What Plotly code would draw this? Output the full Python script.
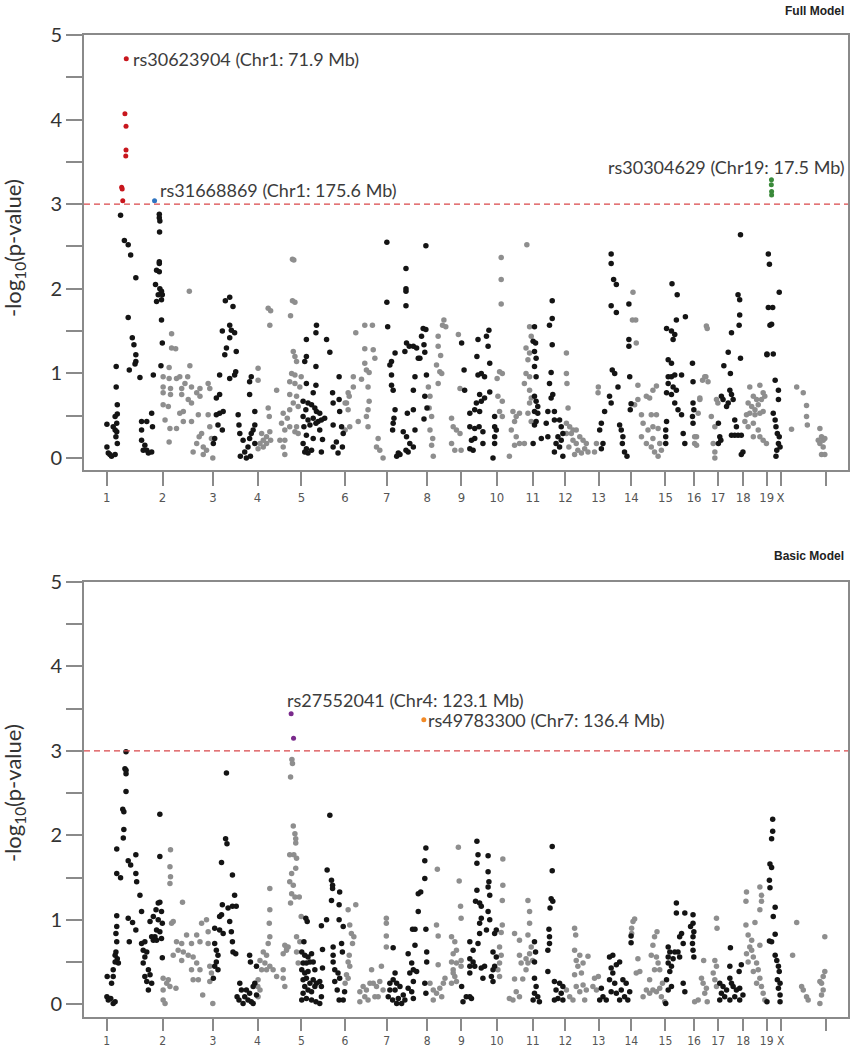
import plotly.graph_objects as go

# chromosome layout (Mb)
CHROMOSOMES = ['1', '2', '3', '4', '5', '6', '7', '8', '9', '10',
               '11', '12', '13', '14', '15', '16', '17', '18', '19', 'X']
CHR_LENGTH_MB = [205, 185, 163, 161, 159, 153, 149, 125, 130, 132,
                 119, 122, 120, 125, 105, 88, 92, 86, 51, 165]

# ---- Full model: (position Mb, -log10 p) per chromosome ----
full_1 = [(51, 2.87), (193, 2.88), (193, 2.84), (195, 2.8), (194, 2.67),
          (65, 2.57), (79, 2.52), (88, 2.4), (107, 2.13), (79, 1.66), (94, 1.42), (100, 1.34),
          (107, 1.22), (107, 1.14), (104, 1.11), (83, 1.04), (122, 0.95), (35, 1.08), (35, 0.84),
          (39, 0.63), (39, 0.52), (37, 0.41), (31, 0.33), (34, 0.25), (39, 0.17), (1, 0.4),
          (1, 0.13), (6, 0.06), (18, 0.02), (31, 0.04), (12, 0.04), (31, 0.49), (24, 0.37),
          (37, 0.31), (128, 0.43), (147, 0.43), (165, 0.53), (168, 0.37), (128, 0.33),
          (128, 0.21), (140, 0.15), (147, 0.09), (153, 0.06), (165, 0.07), (134, 0.09),
          (171, 0.98), (193, 2.32), (193, 2.3), (183, 2.22), (193, 2.2), (179, 2.05), (195, 2.0),
          (201, 1.97), (189, 1.93), (204, 1.93), (183, 1.85), (201, 1.87), (201, 1.63),
          (204, 1.36), (199, 1.09)]
full_2 = [(98, 1.97), (33, 1.47), (33, 1.3), (48, 1.29), (24, 1.07), (2, 0.96), (24, 0.94),
          (51, 0.94), (63, 0.96), (100, 1.09), (92, 0.96), (2, 0.84), (29, 0.82), (70, 0.82),
          (82, 0.88), (106, 0.84), (2, 0.77), (29, 0.75), (70, 0.75), (106, 0.65), (94, 0.69),
          (125, 0.77), (137, 0.82), (167, 0.88), (173, 0.82), (2, 0.63), (21, 0.61), (63, 0.53),
          (76, 0.55), (106, 0.43), (131, 0.51), (137, 0.73), (9, 0.45), (27, 0.35), (51, 0.35),
          (76, 0.43), (24, 0.19), (112, 0.07), (125, 0.17), (134, 0.25), (143, 0.29),
          (149, 0.13), (161, 0.09), (167, 0.51), (173, 0.37), (179, 0.23), (184, 0.0), (149, 0.04)]
full_3 = [(45, 1.86), (61, 1.9), (73, 1.79), (34, 1.5), (61, 1.57), (67, 1.51), (79, 1.48),
          (61, 1.42), (49, 1.3), (43, 1.22), (85, 1.26), (83, 1.02), (79, 0.98), (61, 0.94),
          (24, 0.98), (24, 0.75), (12, 0.71), (24, 0.53), (12, 0.51), (37, 0.55), (18, 0.39),
          (34, 0.33), (6, 0.23), (1, 0.17), (92, 0.51), (95, 0.39), (98, 0.29), (100, 0.02),
          (116, 0.07), (128, 0.13), (134, 0.23), (147, 0.33), (153, 0.17), (137, 0.02),
          (122, 0.0), (153, 0.39), (134, 0.9), (140, 0.96), (134, 0.75), (153, 0.55),
          (110, 0.21), (140, 0.29)]
full_4 = [(39, 1.77), (48, 1.74), (45, 1.57), (2, 1.06), (2, 0.92), (39, 0.59), (43, 0.49),
          (70, 0.8), (15, 0.29), (33, 0.25), (9, 0.17), (21, 0.13), (33, 0.17), (45, 0.31),
          (48, 0.21), (2, 0.11), (21, 0.21), (94, 0.53), (88, 0.41), (100, 0.33), (100, 0.21),
          (94, 0.13), (100, 0.04), (82, 0.21), (109, 0.47), (118, 0.37), (128, 2.35), (133, 2.34),
          (128, 1.86), (137, 1.84), (121, 1.68), (131, 1.26), (137, 1.2), (143, 1.14), (125, 1.0),
          (137, 0.98), (160, 0.96), (118, 0.9), (137, 0.88), (155, 0.84), (143, 0.73),
          (118, 0.75), (131, 0.65), (149, 0.61), (118, 0.57), (137, 0.31), (149, 0.29), (143, 0.37)]
full_5 = [(55, 1.57), (53, 1.48), (18, 1.4), (18, 1.2), (12, 1.14), (53, 1.08), (18, 0.88),
          (53, 0.86), (43, 0.77), (6, 0.67), (24, 0.65), (37, 0.63), (49, 0.59), (55, 0.55),
          (67, 0.53), (16, 0.57), (6, 0.49), (24, 0.45), (43, 0.47), (61, 0.43), (73, 0.45),
          (85, 0.47), (9, 0.37), (31, 0.39), (53, 0.41), (67, 0.33), (18, 0.27), (43, 0.23),
          (77, 0.22), (6, 0.17), (18, 0.11), (37, 0.09), (73, 0.07), (12, 0.07), (24, 0.06),
          (92, 1.4), (104, 1.25), (138, 0.96), (114, 0.77), (116, 0.65), (138, 0.69), (140, 0.55),
          (116, 0.39), (147, 0.37), (153, 0.29), (128, 0.19), (116, 0.13), (134, 0.06), (150, 0.13)]
full_6 = [(40, 1.48), (73, 1.57), (101, 1.57), (73, 1.29), (104, 1.28), (110, 1.18), (73, 1.12),
          (79, 1.04), (89, 1.01), (31, 0.96), (61, 0.93), (85, 0.84), (31, 0.84), (12, 0.77),
          (16, 0.73), (6, 0.65), (12, 0.57), (89, 0.67), (85, 0.57), (79, 0.49), (49, 0.43),
          (85, 0.37), (18, 0.37), (1, 0.65), (1, 0.33), (122, 0.23), (116, 0.13), (128, 0.09),
          (140, 0.0)]
full_7 = [(1, 2.55), (1, 1.84), (4, 1.55), (31, 1.24), (18, 1.14), (12, 1.1), (18, 0.98),
          (18, 0.86), (24, 0.8), (31, 0.57), (24, 0.41), (22, 0.33), (27, 0.47), (71, 2.24),
          (71, 2.0), (71, 1.97), (71, 1.8), (73, 1.36), (67, 1.26), (83, 1.32), (98, 1.32),
          (110, 1.3), (116, 1.18), (104, 0.96), (98, 0.8), (76, 0.53), (98, 0.57), (61, 0.31),
          (73, 0.25), (85, 0.17), (71, 0.09), (79, 0.07), (43, 0.06), (37, 0.02), (49, 0.04),
          (98, 0.13), (104, 0.33), (144, 2.51), (134, 1.53), (144, 1.52), (128, 1.44), (137, 1.34),
          (140, 1.25), (122, 1.18), (146, 0.98), (140, 0.73), (148, 0.59), (137, 0.46)]
full_8 = [(4, 0.84), (10, 0.73), (7, 0.59), (16, 0.49), (10, 0.33), (20, 0.23), (16, 0.15),
          (22, 0.02), (40, 1.44), (40, 1.32), (49, 1.21), (34, 1.1), (46, 1.02), (53, 1.0),
          (40, 0.88), (61, 1.63), (68, 1.55), (56, 1.57), (120, 0.82), (114, 1.46), (89, 0.47),
          (95, 0.37), (107, 0.33), (89, 0.17), (101, 0.09), (120, 0.29), (124, 0.09)]
full_9 = [(1, 1.36), (10, 1.04), (12, 0.8), (61, 1.4), (57, 1.2), (61, 0.98), (73, 1.0),
          (85, 0.96), (92, 1.44), (98, 1.32), (101, 1.51), (104, 1.12), (104, 0.78), (67, 0.75),
          (55, 0.65), (73, 0.67), (85, 0.71), (49, 0.57), (31, 0.53), (67, 0.55), (31, 0.37),
          (49, 0.35), (65, 0.37), (79, 0.31), (37, 0.21), (49, 0.23), (31, 0.11), (79, 0.17),
          (43, 0.09), (122, 0.49), (122, 0.37), (122, 0.25), (122, 0.17), (116, 0.0), (128, 0.33)]
full_10 = [(16, 2.37), (16, 2.11), (16, 1.82), (10, 1.02), (20, 1.0), (1, 0.94), (4, 0.73),
           (20, 0.67), (10, 0.55), (20, 0.49), (59, 0.55), (71, 0.49), (83, 0.53), (65, 0.43),
           (53, 0.33), (71, 0.25), (65, 0.15), (46, 0.02), (83, 0.17), (101, 0.17), (110, 2.52),
           (120, 1.55), (126, 1.44), (107, 1.3), (120, 1.24), (114, 1.16), (107, 1.0), (120, 0.96),
           (101, 0.88), (120, 0.8), (126, 0.71), (120, 0.65), (114, 0.53), (126, 0.43)]
full_11 = [(6, 1.55), (1, 1.38), (10, 1.36), (6, 1.26), (12, 1.18), (6, 1.08), (12, 0.96),
           (6, 0.73), (12, 0.67), (18, 0.61), (6, 0.55), (18, 0.53), (12, 0.43), (6, 0.39),
           (1, 0.17), (31, 0.23), (49, 0.41), (55, 0.55), (67, 0.71), (73, 0.75), (61, 0.88),
           (67, 1.01), (71, 1.34), (71, 1.65), (61, 1.57), (71, 1.86), (79, 0.55), (79, 0.45),
           (55, 0.25), (98, 0.45), (104, 0.37), (110, 0.29), (85, 0.17), (98, 0.13), (79, 0.07),
           (110, 0.02), (104, 0.21), (92, 0.25)]
full_12 = [(4, 1.24), (4, 1.0), (6, 0.88), (10, 0.59), (4, 0.41), (16, 0.37), (22, 0.29),
           (28, 0.21), (40, 0.17), (53, 0.25), (65, 0.21), (77, 0.17), (46, 0.09), (71, 0.11),
           (83, 0.07), (28, 0.33), (40, 0.33), (4, 0.29), (13, 0.13), (34, 0.04), (59, 0.06),
           (107, 0.07), (114, 0.17), (121, 0.84), (120, 0.77)]
full_13 = [(46, 2.41), (46, 2.3), (55, 2.11), (65, 2.05), (46, 1.8), (65, 1.72), (50, 1.04),
           (59, 1.0), (71, 0.84), (40, 0.73), (46, 0.65), (10, 0.41), (4, 0.33), (16, 0.17),
           (10, 0.11), (77, 0.39), (83, 0.33), (89, 0.25), (87, 0.17), (95, 0.07), (104, 0.02),
           (114, 0.96), (111, 1.82), (111, 1.4), (111, 1.32), (116, 0.57), (119, 0.64), (22, 0.55)]
full_14 = [(6, 1.96), (4, 1.63), (16, 1.63), (18, 1.36), (24, 0.86), (24, 0.69), (12, 0.63),
           (37, 0.51), (55, 0.73), (67, 0.71), (79, 0.8), (92, 0.85), (73, 0.51), (92, 0.51),
           (43, 0.41), (61, 0.33), (79, 0.37), (98, 0.35), (55, 0.17), (73, 0.13), (85, 0.07),
           (98, 0.02), (110, 0.09), (104, 0.17), (37, 0.25), (79, 0.23)]
full_15 = [(24, 2.06), (43, 1.93), (40, 1.63), (73, 1.67), (4, 1.53), (22, 1.5), (34, 1.46),
           (28, 1.4), (10, 1.16), (22, 1.12), (10, 0.96), (22, 0.96), (34, 0.98), (59, 0.98),
           (10, 0.88), (28, 0.84), (40, 0.8), (4, 0.77), (22, 0.75), (34, 0.65), (46, 0.57),
           (59, 0.51), (99, 1.12), (101, 0.9), (101, 0.65), (104, 0.57), (99, 0.49), (101, 0.41),
           (65, 0.29), (71, 0.17), (4, 0.43), (1, 0.33), (1, 0.25), (1, 0.17)]
full_16 = [(45, 1.56), (48, 1.53), (31, 0.92), (43, 0.96), (51, 0.9), (21, 0.71), (15, 0.53),
           (9, 0.25), (2, 0.17), (21, 0.69), (39, 0.96), (63, 0.49), (76, 0.37), (70, 0.17),
           (76, 0.07), (76, 0.0), (82, 0.69), (87, 0.65), (9, 0.15), (2, 0.25)]
full_17 = [(37, 1.25), (49, 1.48), (21, 1.09), (45, 1.0), (43, 0.8), (49, 0.75), (55, 0.69),
           (12, 0.73), (18, 0.69), (37, 0.65), (31, 0.61), (1, 0.41), (6, 0.25), (1, 0.17),
           (10, 0.21), (61, 0.45), (67, 0.37), (49, 0.27), (61, 0.27), (73, 0.27), (85, 0.27),
           (82, 1.18), (85, 0.04), (91, 0.07), (73, 1.93), (79, 1.87), (79, 1.69), (77, 1.57),
           (82, 2.64)]
full_18 = [(24, 0.84), (37, 0.73), (49, 0.69), (61, 0.86), (73, 0.77), (18, 0.65), (31, 0.61),
           (43, 0.57), (55, 0.63), (67, 0.69), (79, 0.73), (12, 0.51), (24, 0.53), (43, 0.51),
           (61, 0.53), (73, 0.55), (6, 0.43), (18, 0.37), (37, 0.41), (55, 0.33), (61, 0.25),
           (73, 0.21), (85, 0.17), (37, 0.25)]
full_19 = [(6, 2.41), (10, 2.29), (6, 1.78), (22, 1.78), (12, 1.57), (18, 1.58), (1, 1.23),
           (1, 1.22), (24, 1.23), (31, 0.92), (43, 0.8), (43, 0.69), (24, 0.53), (31, 0.45),
           (34, 0.37), (39, 0.29), (46, 0.25), (43, 0.17), (37, 0.09), (34, 0.02), (49, 0.13),
           (46, 1.96)]
full_x = [(59, 0.84), (83, 0.77), (95, 0.62), (95, 0.49), (98, 0.39), (40, 0.34), (144, 0.35),
          (150, 0.25), (156, 0.21), (162, 0.23), (144, 0.17), (156, 0.13), (150, 0.04),
          (162, 0.04), (138, 0.21)]

# ---- Basic model ----
basic_1 = [(71, 2.99), (67, 2.79), (71, 2.77), (71, 2.73), (71, 2.52), (59, 2.31), (63, 2.28),
           (63, 2.07), (61, 1.97), (37, 1.84), (37, 1.55), (51, 1.5), (79, 1.7), (88, 1.65),
           (107, 1.77), (107, 1.55), (110, 1.45), (122, 1.29), (128, 1.1), (79, 1.02), (37, 1.05),
           (95, 0.97), (107, 0.88), (83, 0.74), (37, 0.92), (34, 0.84), (37, 0.74), (34, 0.62),
           (39, 0.54), (43, 0.49), (31, 0.5), (24, 0.41), (24, 0.33), (18, 0.25), (2, 0.33),
           (1, 0.09), (6, 0.05), (24, 0.01), (31, 0.03), (15, 0.07), (31, 0.58), (128, 0.72),
           (140, 0.74), (134, 0.64), (140, 0.56), (147, 0.62), (134, 0.49), (153, 0.41),
           (140, 0.33), (159, 0.35), (147, 0.27), (153, 0.17), (165, 0.25), (159, 0.98),
           (171, 1.04), (181, 1.12), (189, 1.2), (195, 1.21), (195, 2.25), (195, 1.75), (201, 1.1),
           (183, 0.88), (195, 0.86), (177, 0.8), (171, 0.76), (183, 0.76), (201, 0.78), (165, 0.8),
           (204, 0.55), (189, 1.0), (204, 0.96)]
basic_2 = [(29, 1.83), (27, 1.63), (29, 1.51), (27, 1.43), (73, 1.21), (33, 0.96), (39, 0.98),
           (2, 0.31), (21, 0.29), (2, 0.17), (15, 0.25), (2, 0.05), (9, 0.01), (49, 0.19),
           (27, 0.21), (51, 0.74), (70, 0.72), (88, 0.82), (106, 0.72), (125, 0.82), (143, 0.96),
           (137, 0.74), (57, 0.64), (76, 0.62), (94, 0.58), (112, 0.56), (39, 0.58), (70, 0.52),
           (106, 0.41), (125, 0.49), (137, 0.41), (112, 0.29), (131, 0.29), (147, 0.11),
           (161, 1.0), (167, 0.86), (167, 0.72), (173, 0.45), (179, 0.37), (173, 0.27), (184, 0.01)]
basic_3 = [(49, 2.74), (46, 1.96), (51, 1.9), (31, 1.68), (71, 1.53), (79, 1.29), (85, 1.16),
           (71, 1.16), (55, 1.14), (34, 1.18), (31, 1.06), (24, 1.04), (61, 0.98), (6, 0.9),
           (24, 0.88), (37, 0.84), (67, 0.86), (71, 0.74), (73, 0.62), (83, 0.6), (6, 0.72),
           (12, 0.64), (18, 0.58), (12, 0.5), (6, 0.45), (18, 0.41), (1, 0.31), (134, 0.58),
           (137, 0.5), (159, 0.45), (153, 0.25), (147, 0.21), (159, 0.11), (98, 0.25), (104, 0.17),
           (116, 0.09), (128, 0.05), (140, 0.03), (88, 0.09), (110, 0.01), (122, 0.17), (95, 0.05),
           (147, 0.01), (134, 0.13)]
basic_4 = [(45, 1.37), (45, 1.12), (43, 0.96), (45, 0.8), (39, 0.72), (21, 0.62), (33, 0.58),
           (9, 0.52), (27, 0.49), (45, 0.45), (15, 0.41), (33, 0.41), (57, 0.41), (70, 0.33),
           (94, 0.41), (94, 0.31), (100, 0.21), (106, 0.64), (106, 0.68), (2, 0.29), (1, 0.21),
           (9, 0.17), (2, 0.09), (126, 2.9), (128, 2.85), (121, 2.69), (131, 2.11), (137, 2.02),
           (140, 1.96), (140, 1.91), (118, 1.77), (133, 1.77), (143, 1.73), (125, 1.55),
           (140, 1.61), (118, 1.45), (131, 1.41), (125, 1.31), (137, 1.27), (153, 1.27),
           (121, 1.2), (100, 0.7), (112, 0.68), (94, 0.6), (143, 0.8), (143, 0.62), (149, 0.49),
           (155, 0.74), (160, 1.04)]
basic_5 = [(16, 1.02), (21, 0.98), (9, 0.74), (1, 0.62), (12, 0.58), (24, 0.56), (37, 0.6),
           (6, 0.49), (18, 0.49), (31, 0.5), (43, 0.5), (1, 0.41), (12, 0.37), (24, 0.39),
           (49, 0.41), (6, 0.29), (18, 0.31), (31, 0.25), (43, 0.29), (55, 0.25), (67, 0.27),
           (73, 0.21), (12, 0.21), (24, 0.17), (37, 0.15), (49, 0.21), (6, 0.13), (18, 0.07),
           (37, 0.05), (53, 0.03), (67, 0.01), (73, 0.09), (1, 0.05), (77, 0.65), (77, 0.43),
           (92, 1.0), (73, 0.93), (104, 2.24), (94, 1.59), (110, 1.47), (114, 1.41), (114, 1.37),
           (110, 1.23), (140, 1.33), (138, 1.18), (138, 1.0), (153, 0.92), (116, 0.68),
           (116, 0.58), (116, 0.5), (122, 0.41), (134, 0.37), (140, 0.31), (147, 0.72),
           (150, 0.62), (122, 0.27), (131, 0.17), (138, 0.05), (153, 0.05), (158, 0.15)]
basic_6 = [(12, 1.12), (40, 1.18), (18, 0.94), (24, 0.84), (33, 0.8), (28, 0.72), (16, 0.58),
           (12, 0.5), (18, 0.45), (6, 0.35), (12, 0.31), (1, 0.25), (55, 0.15), (67, 0.21),
           (79, 0.17), (92, 0.25), (98, 0.41), (104, 0.25), (116, 0.21), (128, 0.27), (122, 0.09),
           (140, 0.17), (73, 0.09), (85, 0.05), (55, 0.03), (152, 1.02), (152, 0.96), (152, 0.81),
           (152, 0.68), (134, 0.45), (110, 0.09)]
basic_7 = [(24, 0.67), (31, 0.37), (12, 0.25), (24, 0.29), (37, 0.25), (12, 0.17), (31, 0.17),
           (49, 0.21), (6, 0.09), (22, 0.05), (43, 0.07), (61, 0.11), (67, 0.05), (37, 0.01),
           (55, 0.01), (79, 0.19), (79, 0.6), (104, 0.7), (92, 0.49), (98, 0.41), (110, 0.39),
           (85, 0.37), (98, 0.27), (92, 0.15), (98, 0.07), (104, 0.89), (95, 0.89), (116, 1.1),
           (116, 1.31), (125, 1.33), (140, 1.49), (140, 1.7), (144, 1.85), (144, 0.89),
           (147, 0.62), (147, 0.5), (140, 0.25), (144, 0.13)]
basic_8 = [(37, 1.6), (34, 0.94), (40, 0.81), (40, 0.47), (10, 0.25), (22, 0.17), (34, 0.13),
           (46, 0.19), (53, 0.09), (65, 0.31), (59, 0.25), (22, 0.05), (114, 1.86), (117, 1.46),
           (122, 1.16), (124, 1.02), (89, 0.8), (101, 0.74), (107, 0.64), (95, 0.6), (89, 0.5),
           (107, 0.49), (95, 0.41), (101, 0.33), (89, 0.25), (107, 0.27), (95, 0.37), (124, 0.52),
           (124, 0.45)]
basic_9 = [(1, 0.21), (18, 0.09), (31, 0.09), (6, 0.03), (37, 0.07), (57, 1.93), (61, 1.77),
           (57, 1.67), (57, 1.35), (52, 1.22), (67, 1.2), (73, 1.16), (73, 1.02), (67, 0.96),
           (98, 1.76), (98, 1.57), (101, 1.45), (98, 1.39), (104, 1.29), (98, 1.1), (104, 1.0),
           (92, 0.88), (67, 0.84), (61, 0.72), (31, 0.74), (43, 0.64), (31, 0.54), (43, 0.5),
           (31, 0.45), (49, 0.45), (73, 0.43), (85, 0.45), (31, 0.37), (79, 0.31), (122, 0.84),
           (128, 0.88), (116, 0.62), (128, 0.56), (122, 0.45), (116, 0.41), (110, 0.33), (116, 0.27)]
basic_10 = [(22, 1.72), (22, 1.41), (20, 1.23), (20, 0.94), (16, 0.85), (10, 0.68), (16, 0.58),
            (10, 0.49), (4, 0.41), (10, 0.33), (65, 0.84), (83, 0.76), (83, 0.58), (89, 0.49),
            (65, 0.3), (95, 0.3), (46, 0.07), (59, 0.05), (83, 0.09), (71, 0.15), (114, 1.23),
            (120, 1.1), (120, 0.96), (114, 0.82), (126, 0.68), (120, 0.6), (131, 0.52), (107, 0.54),
            (114, 0.49), (107, 0.41)]
basic_11 = [(6, 0.74), (10, 0.62), (6, 0.5), (6, 0.31), (12, 0.21), (6, 0.13), (1, 0.05),
            (18, 0.09), (24, 0.03), (71, 1.87), (71, 1.58), (67, 1.25), (73, 1.22), (63, 1.14),
            (59, 0.89), (61, 0.8), (61, 0.72), (55, 0.64), (55, 0.39), (79, 0.27), (98, 0.25),
            (110, 0.21), (85, 0.17), (104, 0.13), (92, 0.07), (110, 0.05), (79, 0.05)]
basic_12 = [(34, 0.9), (38, 0.82), (34, 0.64), (53, 0.58), (40, 0.52), (65, 0.49), (83, 0.57),
            (46, 0.45), (59, 0.37), (34, 0.35), (40, 0.21), (65, 0.23), (77, 0.17), (4, 0.17),
            (16, 0.09), (28, 0.05), (53, 0.15), (71, 0.05), (101, 0.21), (114, 0.17), (107, 0.31),
            (121, 0.33)]
basic_13 = [(10, 0.19), (16, 0.09), (4, 0.05), (28, 0.05), (40, 0.56), (52, 0.58), (46, 0.43),
            (52, 0.37), (65, 0.47), (77, 0.5), (40, 0.29), (59, 0.25), (46, 0.15), (65, 0.13),
            (77, 0.05), (89, 0.29), (101, 0.25), (83, 0.17), (95, 0.09), (107, 0.05), (114, 0.15),
            (119, 0.73), (119, 0.81)]
basic_14 = [(6, 0.98), (12, 1.01), (1, 0.9), (1, 0.84), (24, 0.54), (31, 0.39), (18, 0.37),
            (55, 0.17), (43, 0.09), (67, 0.13), (79, 0.17), (92, 0.15), (104, 0.19), (110, 0.09),
            (85, 0.41), (92, 0.56), (98, 0.49), (79, 0.7), (85, 0.8), (94, 0.86), (73, 0.58),
            (104, 0.41), (114, 0.25), (67, 0.29), (122, 0.03)]
basic_15 = [(4, 0.29), (10, 0.17), (1, 0.01), (22, 0.21), (40, 1.2), (40, 1.08), (71, 1.08),
            (59, 0.84), (52, 0.8), (65, 0.72), (10, 0.68), (16, 0.62), (34, 0.62), (46, 0.62),
            (10, 0.56), (28, 0.54), (52, 0.56), (10, 0.49), (22, 0.45), (16, 0.39), (65, 0.25),
            (71, 0.15), (101, 1.06), (101, 0.96), (104, 0.86), (101, 0.8), (99, 0.72), (101, 0.64),
            (104, 0.56), (92, 0.92)]
basic_16 = [(35, 0.52), (27, 0.31), (33, 0.25), (45, 0.19), (39, 0.13), (48, 0.03), (2, 0.03),
            (15, 0.05), (82, 1.02), (84, 0.9), (76, 0.52), (82, 0.45), (70, 0.37), (76, 0.29),
            (82, 0.21)]
basic_17 = [(45, 0.67), (43, 0.45), (43, 0.31), (6, 0.25), (18, 0.21), (31, 0.17), (12, 0.13),
            (24, 0.09), (43, 0.05), (6, 0.05), (55, 0.21), (67, 0.17), (79, 0.19), (61, 0.09),
            (79, 0.05), (91, 0.11), (85, 0.47), (77, 0.39), (49, 0.25)]
basic_18 = [(12, 1.33), (10, 1.22), (10, 0.94), (43, 0.97), (18, 0.82), (31, 0.76), (24, 0.68),
            (12, 0.6), (31, 0.64), (37, 0.56), (18, 0.5), (49, 0.49), (61, 1.39), (67, 1.29),
            (67, 1.22), (61, 1.12), (61, 0.7), (55, 0.41), (61, 0.31), (67, 0.21), (73, 0.13),
            (79, 0.05), (37, 0.39), (49, 0.25)]
basic_19 = [(22, 2.19), (22, 2.05), (18, 1.96), (12, 1.66), (18, 1.62), (10, 1.47), (12, 1.38),
            (31, 1.15), (24, 1.04), (31, 0.83), (10, 0.75), (18, 0.74), (31, 0.58), (37, 0.52),
            (43, 0.45), (46, 0.39), (39, 0.29), (49, 0.25), (43, 0.19), (49, 0.11), (49, 0.03),
            (1, 0.03)]
basic_x = [(59, 0.97), (44, 0.58), (77, 0.21), (83, 0.17), (95, 0.09), (101, 0.05), (162, 0.8),
           (162, 0.39), (156, 0.33), (150, 0.25), (144, 0.27), (156, 0.17), (150, 0.11), (144, 0.01)]

# highlighted SNP clusters
full_red = [(71.9, 4.72), (67, 4.07), (71, 3.92), (71, 3.64), (70, 3.57), (55, 3.2), (57, 3.18), (59, 3.04)]
full_blue = [(175.6, 3.04)]
full_green = [(17.5, 3.29), (17, 3.23), (18, 3.15), (18, 3.11)]
basic_purple = [(123.1, 3.44), (132, 3.15)]
basic_orange = [(136.4, 3.37)]

THRESHOLD = 3

full_by_chr = [full_1, full_2, full_3, full_4, full_5, full_6, full_7, full_8, full_9, full_10,
               full_11, full_12, full_13, full_14, full_15, full_16, full_17, full_18, full_19, full_x]
basic_by_chr = [basic_1, basic_2, basic_3, basic_4, basic_5, basic_6, basic_7, basic_8, basic_9,
                basic_10, basic_11, basic_12, basic_13, basic_14, basic_15, basic_16, basic_17,
                basic_18, basic_19, basic_x]

starts = []
acc = 0
for length in CHR_LENGTH_MB:
    starts.append(acc)
    acc += length
genome_end = acc


def cum(chrom, pos):
    return starts[CHROMOSOMES.index(chrom)] + pos


BLACK = '#141414'
GRAY = '#8e8e8e'
AXIS = '#8a8a8a'
FONT = 'Lato, Open Sans, sans-serif'

fig = go.Figure()

for panel, chr_lists in [('1', full_by_chr), ('2', basic_by_chr)]:
    xa = 'x' if panel == '1' else 'x2'
    ya = 'y' if panel == '1' else 'y2'
    for parity, color in [(1, GRAY), (0, BLACK)]:
        xs, ys = [], []
        for i, pts in enumerate(chr_lists):
            if i % 2 != parity:
                continue
            for pos, val in pts:
                xs.append(starts[i] + pos)
                ys.append(val)
        fig.add_trace(go.Scatter(x=xs, y=ys, mode='markers', xaxis=xa, yaxis=ya,
                                 marker=dict(size=5.5, color=color, line=dict(width=0)),
                                 hoverinfo='x+y'))

hits = [('1', '1', full_red, '#c8161d'), ('1', '1', full_blue, '#2f74c0'),
        ('1', '19', full_green, '#3a8a3a'), ('2', '4', basic_purple, '#7a2a8c'),
        ('2', '7', basic_orange, '#f28a26')]
for panel, chrom, pts, color in hits:
    fig.add_trace(go.Scatter(x=[cum(chrom, p) for p, v in pts], y=[v for p, v in pts],
                             mode='markers', xaxis='x' if panel == '1' else 'x2',
                             yaxis='y' if panel == '1' else 'y2',
                             marker=dict(size=5, color=color, line=dict(width=0))))

label_font = dict(family=FONT, size=18, color='#3c3c3c')
annotations = [
    dict(text='rs30623904 (Chr1: 71.9 Mb)', x=cum('1', 71.9), y=4.72, xref='x', yref='y',
         xanchor='left', yanchor='middle', xshift=5, showarrow=False, font=label_font),
    dict(text='rs31668869 (Chr1: 175.6 Mb)', x=cum('1', 175.6), y=3.17, xref='x', yref='y',
         xanchor='left', yanchor='middle', xshift=3, showarrow=False, font=label_font),
    dict(text='rs30304629 (Chr19: 17.5 Mb)', x=1.0, y=3.44, xref='x domain', yref='y',
         xanchor='right', yanchor='middle', xshift=-1, showarrow=False, font=label_font),
    dict(text='rs27552041 (Chr4: 123.1 Mb)', x=cum('4', 123.1), y=3.6, xref='x2', yref='y2',
         xanchor='left', yanchor='middle', xshift=-6, showarrow=False, font=label_font),
    dict(text='rs49783300 (Chr7: 136.4 Mb)', x=cum('7', 136.4), y=3.37, xref='x2', yref='y2',
         xanchor='left', yanchor='middle', xshift=2, showarrow=False, font=label_font),
    dict(text='<b>Full Model</b>', x=846 / 851, y=1 - 11 / 1050, xref='paper', yref='paper',
         xanchor='right', yanchor='middle', showarrow=False,
         font=dict(family='Liberation Sans, Arial, sans-serif', size=12, color='#222')),
    dict(text='<b>Basic Model</b>', x=846 / 851, y=1 - 556 / 1050, xref='paper', yref='paper',
         xanchor='right', yanchor='middle', showarrow=False,
         font=dict(family='Liberation Sans, Arial, sans-serif', size=12, color='#222')),
]
for yc in [248, 793]:
    annotations.append(dict(text='-log<sub>10</sub>(p-value)', x=14 / 851, y=1 - yc / 1050,
                            xref='paper', yref='paper', textangle=-90, showarrow=False,
                            xanchor='center', yanchor='middle',
                            font=dict(family=FONT, size=22, color='#333')))

shapes = []
for xa, ya in [('x', 'y'), ('x2', 'y2')]:
    shapes.append(dict(type='line', xref=xa + ' domain', x0=0, x1=1, yref=ya, y0=THRESHOLD,
                       y1=THRESHOLD, line=dict(color='#d9474a', width=1.3, dash='6px,4px')))

ytickvals = [i / 2 for i in range(11)]
yticktext = [str(int(v)) if v == int(v) else '' for v in ytickvals]
xtickvals = starts + [genome_end]
xticktext = CHROMOSOMES + ['']

TICK_FONT_X = 'Liberation Sans Narrow, DejaVu Sans Condensed, sans-serif'
xaxis_style = dict(range=[-83, 2717], domain=[84 / 851, 848 / 851], showgrid=False,
                   zeroline=False, showline=True, mirror=True, linecolor=AXIS, linewidth=2,
                   ticks='outside', tickwidth=1.5, tickcolor=AXIS, automargin=False,
                   tickvals=xtickvals, ticktext=xticktext)
yaxis_style = dict(showgrid=False, zeroline=False, showline=True, mirror=True, linecolor=AXIS,
                   linewidth=2, ticks='outside', ticklen=16, tickwidth=1.5, tickcolor=AXIS,
                   automargin=False, tickvals=ytickvals, ticktext=yticktext,
                   tickfont=dict(family=FONT, size=20, color='#333'))

fig.update_layout(
    width=851, height=1050,
    margin=dict(l=0, r=0, t=0, b=0, autoexpand=False),
    paper_bgcolor='white', plot_bgcolor='white',
    showlegend=False,
    xaxis=dict(xaxis_style, anchor='y', ticklen=14,
               tickfont=dict(family=TICK_FONT_X, size=13, color='#555')),
    xaxis2=dict(xaxis_style, anchor='y2', ticklen=12,
                tickfont=dict(family=TICK_FONT_X, size=12, color='#555')),
    yaxis=dict(yaxis_style, anchor='x', range=[-0.142, 5], domain=[1 - 470 / 1050, 1 - 35 / 1050]),
    yaxis2=dict(yaxis_style, anchor='x2', range=[-0.15, 5], domain=[1 - 1017 / 1050, 1 - 582 / 1050]),
    annotations=annotations,
    shapes=shapes,
)

# the page's default body margin would push the 851x1050 figure off the window
fig.write_html("out.html", config={'displayModeBar': False},
               post_script="document.body.style.margin='0px';")
